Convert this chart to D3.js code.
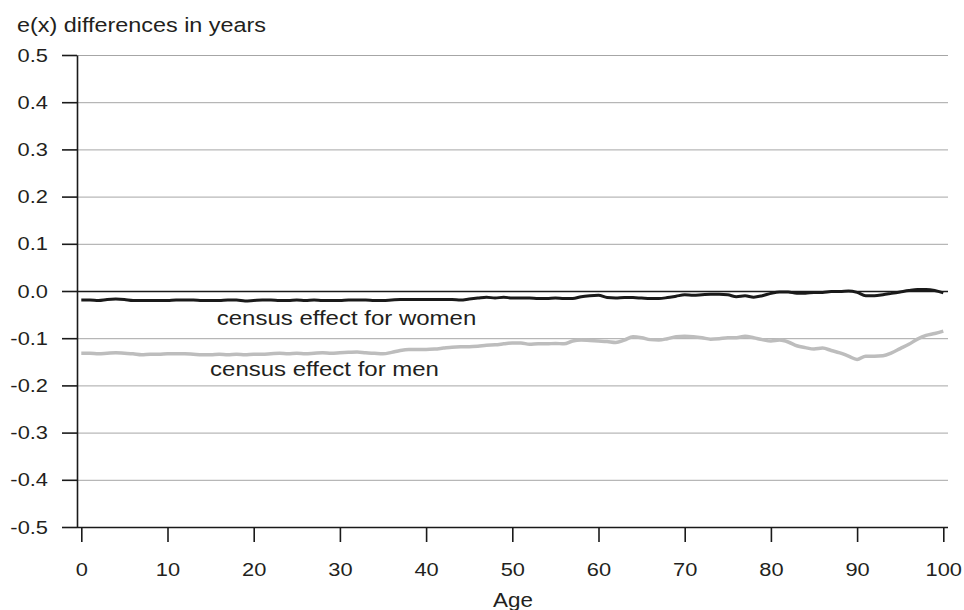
<!DOCTYPE html>
<html>
<head>
<meta charset="utf-8">
<script src="https://cdn.jsdelivr.net/npm/d3@7"></script>
<style>
  html, body { margin: 0; padding: 0; background: #fff; }
  svg { display: block; font-family: "Liberation Sans", Arial, sans-serif; }
</style>
</head>
<body>
<svg id="chart" width="964" height="610"></svg>
<script>
// ---- data ----
const ages = d3.range(0, 101);
const women = [
  -0.019,-0.019,-0.020,-0.018,-0.017,-0.018,-0.020,-0.020,-0.020,-0.020,
  -0.020,-0.019,-0.019,-0.019,-0.020,-0.020,-0.020,-0.019,-0.019,-0.021,
  -0.020,-0.019,-0.019,-0.020,-0.020,-0.019,-0.020,-0.019,-0.020,-0.020,
  -0.020,-0.019,-0.019,-0.019,-0.020,-0.020,-0.019,-0.018,-0.018,-0.018,
  -0.018,-0.018,-0.018,-0.018,-0.019,-0.017,-0.015,-0.013,-0.015,-0.013,
  -0.015,-0.015,-0.015,-0.016,-0.016,-0.015,-0.016,-0.016,-0.012,-0.010,
  -0.009,-0.014,-0.015,-0.014,-0.014,-0.015,-0.016,-0.016,-0.014,-0.011,
  -0.008,-0.009,-0.008,-0.007,-0.007,-0.008,-0.012,-0.010,-0.013,-0.010,
  -0.005,-0.002,-0.002,-0.005,-0.005,-0.003,-0.003,-0.001,-0.001,0.000,
  -0.003,-0.010,-0.010,-0.008,-0.005,-0.002,0.001,0.003,0.003,0.001,
  -0.004
];
const men = [
  -0.132,-0.132,-0.133,-0.132,-0.131,-0.132,-0.133,-0.135,-0.134,-0.134,
  -0.133,-0.133,-0.133,-0.134,-0.135,-0.135,-0.134,-0.135,-0.134,-0.135,
  -0.134,-0.134,-0.133,-0.132,-0.133,-0.132,-0.133,-0.132,-0.131,-0.132,
  -0.131,-0.130,-0.129,-0.131,-0.132,-0.133,-0.130,-0.126,-0.124,-0.124,
  -0.124,-0.123,-0.121,-0.119,-0.118,-0.118,-0.117,-0.115,-0.114,-0.112,
  -0.110,-0.110,-0.113,-0.112,-0.112,-0.111,-0.112,-0.106,-0.104,-0.105,
  -0.106,-0.107,-0.109,-0.104,-0.097,-0.099,-0.103,-0.104,-0.101,-0.097,
  -0.096,-0.097,-0.099,-0.102,-0.101,-0.099,-0.099,-0.096,-0.099,-0.103,
  -0.106,-0.104,-0.108,-0.116,-0.120,-0.123,-0.121,-0.126,-0.131,-0.138,
  -0.145,-0.138,-0.138,-0.137,-0.131,-0.122,-0.113,-0.102,-0.094,-0.090,
  -0.085
];
const yTicks = [0.5,0.4,0.3,0.2,0.1,0.0,-0.1,-0.2,-0.3,-0.4,-0.5];
const xTicks = [0,10,20,30,40,50,60,70,80,90,100];
const titleText = "e(x) differences in years";
const xTitle = "Age";
const seriesLabels = ["census effect for women", "census effect for men"];

// ---- layout ----
const svg = d3.select("#chart");
const axisX = 77, plotRight = 948, plotTop = 55, plotBottom = 527;
const textColor = "#231f20";
const sx = 1.15;

const x = d3.scaleLinear().domain([0, 100]).range([81.3, 943.3]);
const y = d3.scaleLinear().domain([-0.5, 0.5]).range([plotBottom, plotTop]);

// gridlines
const grid = svg.append("g").attr("transform", `translate(${axisX},0)`)
  .call(d3.axisRight(y).tickValues(yTicks).tickSize(plotRight - axisX).tickFormat(""));
grid.select(".domain").remove();
grid.selectAll(".tick line")
  .attr("stroke", d => (Math.abs(d) < 1e-9 || d === -0.5) ? "#1a1a1a" : "#a6a6a6")
  .attr("stroke-width", d => (Math.abs(d) < 1e-9 || d === -0.5) ? 1.6 : 1);

// left axis
const yAxis = svg.append("g").attr("transform", `translate(${axisX},0)`)
  .call(d3.axisLeft(y).tickValues(yTicks).tickSize(15).tickSizeOuter(0)
    .tickFormat(d => d3.format(".1f")(d).replace("−", "-")));
yAxis.select(".domain").attr("stroke", "#1a1a1a").attr("stroke-width", 1.6);
yAxis.selectAll(".tick line").attr("stroke", "#1a1a1a").attr("stroke-width", 1.6);
yAxis.selectAll(".tick text")
  .attr("x", -29 / sx)
  .attr("transform", `scale(${sx},1)`)
  .attr("font-size", 19).attr("fill", textColor)
  .attr("font-family", "Liberation Sans, Arial, sans-serif");

// bottom axis
const xAxis = svg.append("g").attr("transform", `translate(0,${plotBottom})`)
  .call(d3.axisBottom(x).tickValues(xTicks).tickSize(15).tickPadding(21));
xAxis.select(".domain").remove();
xAxis.selectAll(".tick line").attr("stroke", "#1a1a1a").attr("stroke-width", 1.6);
xAxis.selectAll(".tick text")
  .attr("transform", `scale(${sx},1)`)
  .attr("font-size", 19).attr("fill", textColor)
  .attr("font-family", "Liberation Sans, Arial, sans-serif");

// lines
const line = d3.line().x((d, i) => x(ages[i])).y(d => y(d)).curve(d3.curveMonotoneX);
svg.append("path").datum(men).attr("d", line)
  .attr("fill", "none").attr("stroke", "#bdbdbd").attr("stroke-width", 3.5)
  .attr("stroke-linejoin", "round");
svg.append("path").datum(women).attr("d", line)
  .attr("fill", "none").attr("stroke", "#1a1a1a").attr("stroke-width", 3)
  .attr("stroke-linejoin", "round");

// texts
function stretchedText(str, tx, ty, size, anchor, k) {
  svg.append("text")
    .attr("transform", `translate(${tx},${ty}) scale(${k},1)`)
    .attr("text-anchor", anchor)
    .attr("font-size", size)
    .attr("fill", textColor)
    .text(str);
}
stretchedText(titleText, 17, 32, 19.5, "start", 1.2);
stretchedText(xTitle, 513, 607, 19.5, "middle", 1.15);
stretchedText(seriesLabels[0], 346.5, 325, 20, "middle", 1.2);
stretchedText(seriesLabels[1], 324.5, 376, 20, "middle", 1.2);
</script>
</body>
</html>
